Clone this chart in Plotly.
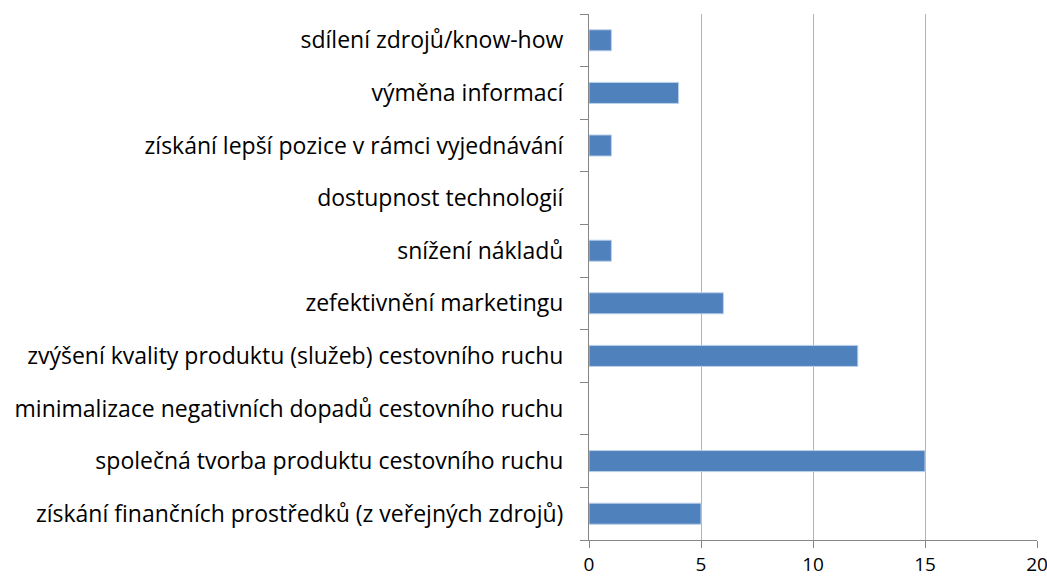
import plotly.graph_objects as go

categories = [
    "získání finančních prostředků (z veřejných zdrojů)",
    "společná tvorba produktu cestovního ruchu",
    "minimalizace negativních dopadů cestovního ruchu",
    "zvýšení kvality produktu (služeb) cestovního ruchu",
    "zefektivnění marketingu",
    "snížení nákladů",
    "dostupnost technologií",
    "získání lepší pozice v rámci vyjednávání",
    "výměna informací",
    "sdílení zdrojů/know-how",
]
values = [5, 15, 0, 12, 6, 1, 0, 1, 4, 1]
x_ticks = [0, 5, 10, 15, 20]

fig = go.Figure(go.Bar(
    y=categories, x=values, orientation="h",
    marker=dict(color="#4F81BD",
                line=dict(color="#BCD0EA", width=[1 if v > 0 else 0 for v in values])),
    hoverinfo="skip",
))

fig.update_layout(
    width=1047, height=576,
    margin=dict(l=589, r=10, t=14, b=36, autoexpand=False),
    plot_bgcolor="white", paper_bgcolor="white",
    bargap=0.6,
    showlegend=False,
    font=dict(family="Open Sans", size=23, color="#000000"),
)
fig.update_xaxes(
    range=[0, 20], tickvals=x_ticks, showgrid=True, gridcolor="#B3B3B3", gridwidth=1,
    zeroline=False, showline=True, linecolor="#868686", linewidth=1,
    ticks="outside", ticklen=7, tickcolor="#868686", ticklabeloverflow="allow",
    tickfont=dict(size=19), fixedrange=True, automargin=False,
)
fig.update_yaxes(
    type="category", categoryorder="array", categoryarray=categories,
    showgrid=False, zeroline=False, showline=True, linecolor="#868686", linewidth=1,
    ticks="outside", tickson="boundaries", ticklen=8, tickcolor="#868686",
    ticklabelstandoff=20, tickfont=dict(size=23), automargin=False, fixedrange=True,
)

fig.write_html(
    "out.html",
    config={"displayModeBar": False, "staticPlot": True},
    post_script="document.body.style.margin='0';document.body.style.overflow='hidden';",
)
